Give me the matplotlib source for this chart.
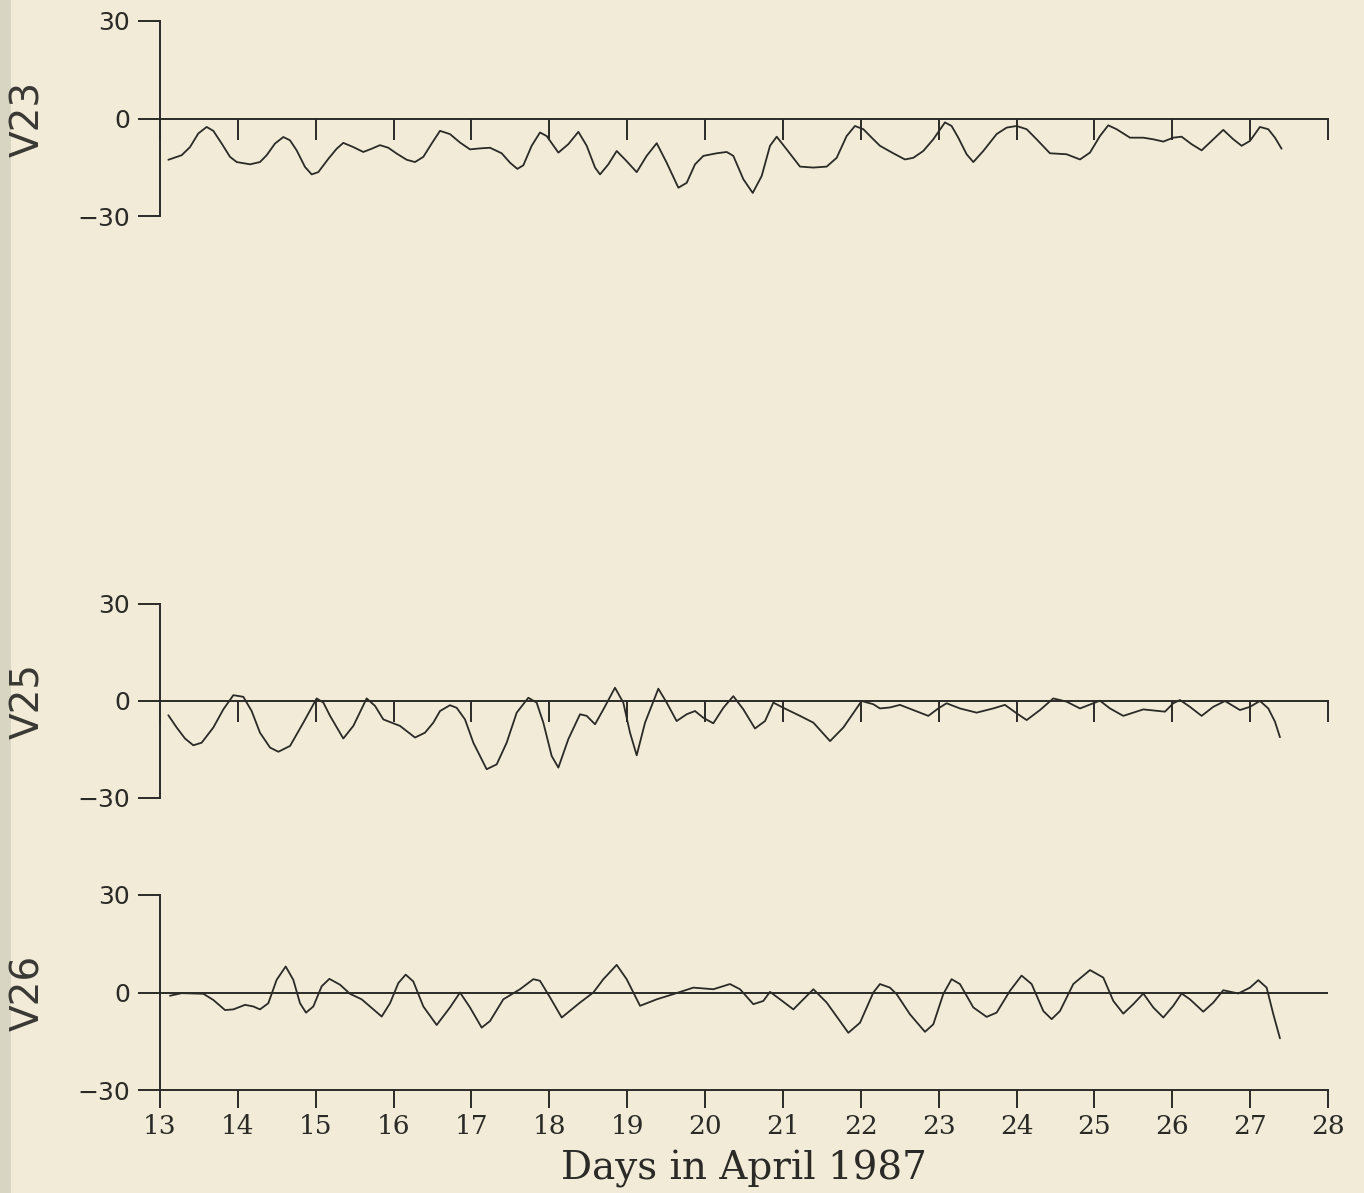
import matplotlib
matplotlib.use("Agg")
import matplotlib.pyplot as plt
from matplotlib.patches import Rectangle

# ---------------- data ----------------
v23_days = [13.107, 13.278, 13.385, 13.492, 13.599, 13.685, 13.792, 13.899, 13.985, 14.156,
            14.284, 14.370, 14.477, 14.584, 14.669, 14.755, 14.862, 14.948, 15.033, 15.162,
            15.269, 15.354, 15.483, 15.611, 15.718, 15.825, 15.932, 16.040, 16.168, 16.275,
            16.382, 16.489, 16.596, 16.724, 16.853, 16.981, 17.110, 17.238, 17.388, 17.495,
            17.589, 17.666, 17.773, 17.880, 17.966, 18.116, 18.244, 18.373, 18.480, 18.587,
            18.651, 18.758, 18.865, 18.972, 19.122, 19.250, 19.379, 19.507, 19.657, 19.764,
            19.871, 19.978, 20.149, 20.278, 20.363, 20.492, 20.612, 20.727, 20.834, 20.920,
            21.048, 21.219, 21.391, 21.562, 21.690, 21.818, 21.925, 22.033, 22.161, 22.246,
            22.417, 22.567, 22.674, 22.802, 22.931, 23.081, 23.166, 23.252, 23.359, 23.445,
            23.573, 23.744, 23.873, 24.001, 24.130, 24.258, 24.429, 24.643, 24.815, 24.943,
            25.071, 25.178, 25.285, 25.457, 25.628, 25.756, 25.885, 26.013, 26.120, 26.248,
            26.377, 26.527, 26.655, 26.784, 26.891, 26.998, 27.126, 27.233, 27.319, 27.404]
v23_vals = [-12.7, -11.3, -8.8, -4.6, -2.6, -3.8, -7.7, -11.8, -13.4, -14.1,
            -13.4, -11.3, -7.7, -5.7, -6.7, -9.8, -14.9, -17.2, -16.5, -12.4,
            -9.3, -7.5, -8.8, -10.3, -9.3, -8.2, -9.0, -10.8, -12.7, -13.4,
            -11.8, -7.7, -3.8, -4.8, -7.4, -9.5, -9.2, -9.0, -10.7, -13.6,
            -15.5, -14.4, -8.4, -4.3, -5.4, -10.5, -7.9, -4.1, -8.4, -15.1,
            -17.2, -14.1, -10.0, -12.6, -16.5, -11.5, -7.6, -13.6, -21.3, -19.8,
            -14.1, -11.5, -10.7, -10.3, -11.5, -18.7, -22.9, -17.7, -8.4, -5.6,
            -9.5, -14.8, -15.1, -14.8, -12.1, -5.4, -2.3, -3.3, -6.4, -8.4,
            -10.7, -12.6, -12.1, -10.0, -6.4, -1.2, -2.3, -5.9, -11.0, -13.4,
            -10.0, -4.8, -2.8, -2.3, -3.3, -6.4, -10.7, -11.0, -12.6, -10.5,
            -5.4, -2.1, -3.3, -5.9, -5.9, -6.4, -7.1, -5.9, -5.6, -7.9,
            -9.8, -6.4, -3.5, -6.4, -8.4, -6.9, -2.6, -3.3, -5.9, -9.3]

v25_days = [13.107, 13.214, 13.321, 13.428, 13.535, 13.685, 13.813, 13.942, 14.070, 14.177,
            14.284, 14.413, 14.520, 14.670, 14.841, 15.012, 15.098, 15.184, 15.354, 15.483,
            15.654, 15.761, 15.868, 16.082, 16.275, 16.403, 16.510, 16.596, 16.724, 16.810,
            16.917, 17.024, 17.195, 17.324, 17.452, 17.581, 17.730, 17.837, 17.923, 18.030,
            18.116, 18.244, 18.394, 18.480, 18.587, 18.694, 18.843, 18.950, 19.036, 19.122,
            19.229, 19.400, 19.507, 19.635, 19.764, 19.871, 19.978, 20.106, 20.235, 20.363,
            20.492, 20.641, 20.770, 20.877, 21.005, 21.219, 21.391, 21.605, 21.776, 22.011,
            22.161, 22.246, 22.374, 22.503, 22.674, 22.867, 22.995, 23.102, 23.273, 23.487,
            23.701, 23.851, 24.001, 24.130, 24.301, 24.472, 24.643, 24.815, 24.986, 25.071,
            25.200, 25.371, 25.628, 25.906, 26.013, 26.099, 26.227, 26.377, 26.527, 26.677,
            26.869, 26.998, 27.126, 27.233, 27.319, 27.383]
v25_vals = [-4.4, -8.2, -11.6, -13.7, -12.9, -8.2, -2.6, 1.8, 1.3, -3.1,
            -9.8, -14.4, -15.7, -13.9, -6.7, 0.8, -0.5, -4.6, -11.6, -7.7,
            0.8, -1.5, -5.7, -7.7, -11.3, -9.8, -6.7, -3.1, -1.3, -2.1,
            -5.7, -12.9, -21.1, -19.6, -12.9, -3.6, 1.0, -0.5, -6.7, -17.0,
            -20.6, -11.8, -4.1, -4.6, -7.2, -2.6, 4.1, -0.5, -9.8, -16.8,
            -6.7, 3.8, -0.5, -6.2, -4.1, -3.1, -5.2, -6.9, -2.1, 1.5,
            -2.6, -8.5, -6.2, -0.5, -2.1, -4.6, -6.7, -12.4, -8.2, 0.0,
            -1.0, -2.3, -2.0, -1.2, -2.8, -4.6, -2.3, -0.7, -2.3, -3.6,
            -2.3, -1.2, -3.8, -5.9, -2.8, 0.8, -0.2, -2.3, -0.7, 0.1,
            -2.3, -4.6, -2.6, -3.3, -0.7, 0.3, -1.8, -4.6, -1.8, 0.0,
            -2.8, -1.8, 0.0, -2.3, -6.4, -11.2]

v26_days = [13.128, 13.278, 13.557, 13.685, 13.835, 13.942, 14.092, 14.199, 14.284, 14.391,
            14.498, 14.614, 14.712, 14.798, 14.875, 14.969, 15.076, 15.175, 15.312, 15.440,
            15.590, 15.697, 15.847, 15.954, 16.061, 16.155, 16.253, 16.382, 16.553, 16.724,
            16.853, 16.981, 17.131, 17.238, 17.409, 17.623, 17.795, 17.880, 18.009, 18.159,
            18.394, 18.565, 18.694, 18.865, 18.993, 19.165, 19.379, 19.593, 19.850, 20.106,
            20.320, 20.449, 20.620, 20.748, 20.834, 20.963, 21.134, 21.262, 21.391, 21.562,
            21.840, 21.990, 22.161, 22.246, 22.374, 22.460, 22.631, 22.824, 22.931, 23.059,
            23.166, 23.273, 23.445, 23.616, 23.744, 23.915, 24.065, 24.194, 24.344, 24.451,
            24.558, 24.729, 24.943, 25.114, 25.243, 25.371, 25.499, 25.628, 25.756, 25.885,
            26.013, 26.120, 26.227, 26.398, 26.527, 26.655, 26.848, 26.998, 27.105, 27.212,
            27.298, 27.383]
v26_vals = [-1.0, -0.2, -0.4, -2.3, -5.4, -5.2, -3.8, -4.3, -5.2, -3.3,
            3.9, 8.0, 3.9, -3.3, -6.2, -4.3, 1.9, 4.2, 2.4, -0.4,
            -2.1, -4.3, -7.4, -3.3, 2.9, 5.5, 3.4, -4.3, -10.0, -4.6,
            0.0, -4.6, -10.8, -8.8, -2.1, 1.0, 4.1, 3.6, -1.5, -7.7,
            -3.1, 0.0, 4.1, 8.5, 4.1, -4.1, -2.1, -0.5, 1.5, 1.0,
            2.6, 1.0, -3.6, -2.6, 0.2, -2.1, -5.2, -2.1, 1.0, -3.1,
            -12.4, -9.3, 0.0, 2.6, 1.5, -0.5, -6.7, -12.1, -9.8, -0.5,
            4.1, 2.6, -4.6, -7.5, -6.2, 0.5, 5.2, 2.6, -5.7, -8.2,
            -5.7, 2.6, 6.9, 4.6, -2.6, -6.5, -3.6, -0.3, -4.6, -7.7,
            -4.1, -0.3, -2.1, -5.9, -3.1, 0.7, -0.3, 1.5, 3.8, 1.5,
            -6.7, -14.1]

series_names = ["V23", "V25", "V26"]
x_ticks = list(range(13, 29))
y_ticks = [-30, 0, 30]
y_tick_labels = ["\u221230", "0", "30"]
x_label = "Days in April 1987"

# ---------------- styling ----------------
BG = "#f1ebd7"
INK = "#2b2a27"
W, H = 1364, 1193
fig = plt.figure(figsize=(W / 100, H / 100), dpi=100, facecolor=BG)
fig.add_artist(Rectangle((0, 0), 11 / W, 1, transform=fig.transFigure,
                         facecolor="#d9d5c3", edgecolor="none", zorder=-1))

left = 160 / W
width = (1328 - 160) / W
panels = [(21, 216), (604, 798), (895, 1090)]
data = [(v23_days, v23_vals), (v25_days, v25_vals), (v26_days, v26_vals)]

for i, ((top_px, bot_px), (d, v), name) in enumerate(zip(panels, data, series_names)):
    ax = fig.add_axes([left, 1 - bot_px / H, width, (bot_px - top_px) / H])
    ax.set_facecolor("none")
    ax.set_xlim(13, 28)
    ax.set_ylim(-30, 30)
    ax.plot(d, v, color=INK, lw=1.3, solid_joinstyle="round", solid_capstyle="round")
    for s in ["top", "right"]:
        ax.spines[s].set_visible(False)
    for s in ["left", "bottom"]:
        ax.spines[s].set_color(INK)
        ax.spines[s].set_linewidth(1.4)
    ax.set_yticks(y_ticks)
    ax.set_yticklabels(y_tick_labels)
    ax.tick_params(axis="y", direction="out", length=16, width=1.4, color=INK,
                   labelsize=18, labelcolor=INK, pad=5.5)
    for lab in ax.get_yticklabels():
        lab.set_fontfamily("DejaVu Sans")
    ax.set_xticks(x_ticks)
    if i < 2:
        ax.spines["bottom"].set_position(("data", 0))
        ax.tick_params(axis="x", direction="out", length=15, width=1.4, color=INK,
                       labelbottom=False)
    else:
        ax.axhline(0, color=INK, lw=1.4, zorder=1)
        ax.tick_params(axis="x", direction="out", length=13, width=1.4, color=INK,
                       labelsize=19, labelcolor=INK, pad=4)
        for lab in ax.get_xticklabels():
            lab.set_fontfamily("DejaVu Serif")
        ax.set_xlabel(x_label, fontsize=28, family="DejaVu Serif",
                      color=INK, labelpad=8)
    # series label, rotated, centred on the zero line
    fig.text(28 / W, 1 - ((top_px + bot_px) / 2) / H, name, rotation=90,
             ha="center", va="center", fontsize=28, family="DejaVu Sans",
             color="#3a3834")

fig.savefig("out.png", dpi=100, facecolor=BG)
